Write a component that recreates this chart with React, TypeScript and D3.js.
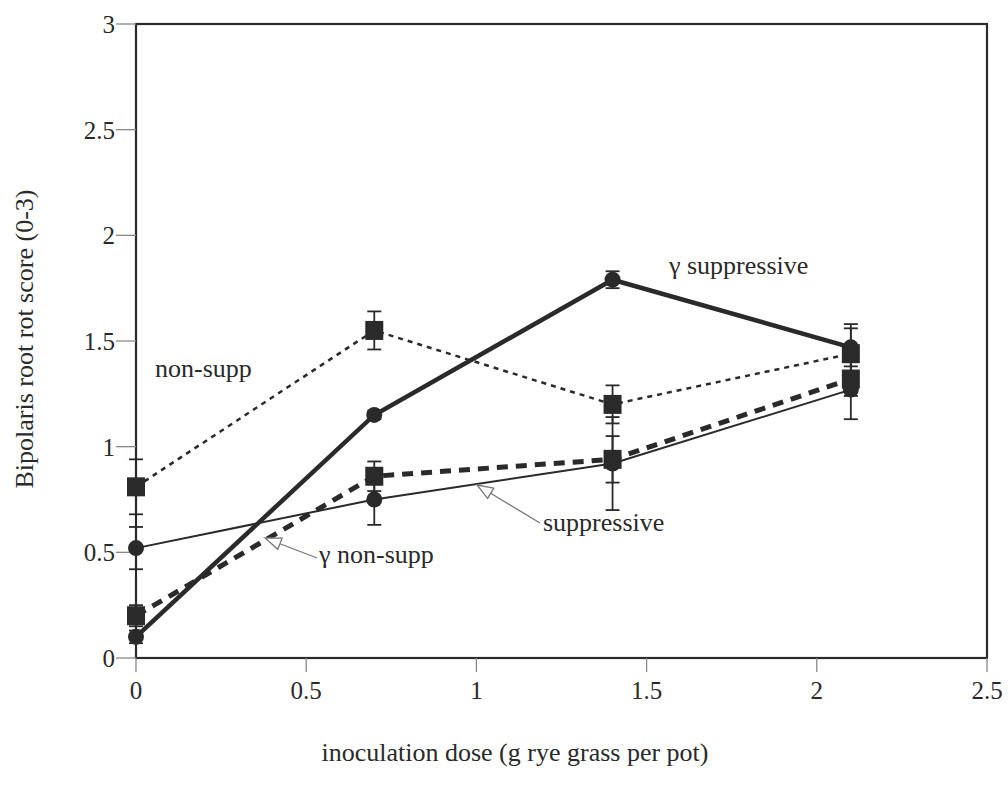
import React from "react";
import * as d3 from "d3";

const doses = [0, 0.7, 1.4, 2.1];
const nonSupp = [0.81, 1.55, 1.2, 1.44];
const nonSuppErr = [0.13, 0.09, 0.09, 0.14];
const gammaSupp = [0.1, 1.15, 1.79, 1.47];
const gammaSuppErr = [0.03, 0.02, 0.04, 0.09];
const supp = [0.52, 0.75, 0.92, 1.27];
const suppErr = [0.1, 0.12, 0.22, 0.14];
const gammaNonSupp = [0.2, 0.86, 0.94, 1.32];
const gammaNonSuppErr = [0.05, 0.07, 0.11, 0.08];

const xTicks = [0, 0.5, 1, 1.5, 2, 2.5];
const xTickLabels = ["0", "0.5", "1", "1.5", "2", "2.5"];
const yTicks = [0, 0.5, 1, 1.5, 2, 2.5, 3];
const yTickLabels = ["0", "0.5", "1", "1.5", "2", "2.5", "3"];

const xLabel = "inoculation dose (g rye grass per pot)";
const yLabel = "Bipolaris root rot score (0-3)";

const INK = "#2a2a2a";
const FONT = "'Liberation Serif', 'Times New Roman', serif";

type Series = {
  name: string;
  values: number[];
  err: number[];
  marker: "square" | "circle";
  width: number;
  dash: string | null;
};

const series: Series[] = [
  { name: "non-supp", values: nonSupp, err: nonSuppErr, marker: "square", width: 2.5, dash: "5,5" },
  { name: "suppressive", values: supp, err: suppErr, marker: "circle", width: 2, dash: null },
  { name: "γ non-supp", values: gammaNonSupp, err: gammaNonSuppErr, marker: "square", width: 5, dash: "11,8" },
  { name: "γ suppressive", values: gammaSupp, err: gammaSuppErr, marker: "circle", width: 4.5, dash: null },
];

export default function App() {
  const W = 1008;
  const H = 786;
  const x = d3.scaleLinear().domain([0, 2.5]).range([136, 987]);
  const y = d3.scaleLinear().domain([0, 3]).range([658, 24]);
  const line = d3
    .line<number>()
    .x((_, i) => x(doses[i]))
    .y((v) => y(v));

  const arrowHead = (tx: number, ty: number, fx: number, fy: number) => {
    const ang = Math.atan2(ty - fy, tx - fx);
    const len = 16;
    const half = 6;
    const bx = tx - len * Math.cos(ang);
    const by = ty - len * Math.sin(ang);
    const px = -Math.sin(ang) * half;
    const py = Math.cos(ang) * half;
    return `M${tx},${ty}L${bx + px},${by + py}L${bx - px},${by - py}Z`;
  };

  const arrows = [
    { from: [540, 523], to: [477, 485] },
    { from: [317, 558], to: [265, 538] },
  ];

  return (
    <div style={{ position: "absolute", left: 0, top: 0 }}>
      <svg width={W} height={H} style={{ display: "block", background: "#fff" }}>
        {/* frame */}
        <rect x={x(0)} y={y(3)} width={x(2.5) - x(0)} height={y(0) - y(3)} fill="none" stroke={INK} strokeWidth={2.2} />
        {/* y ticks */}
        {yTicks.map((t, i) => (
          <g key={"yt" + i}>
            <line x1={x(0) - 20} x2={x(0)} y1={y(t)} y2={y(t)} stroke="#888" strokeWidth={1.3} />
            <text x={x(0) - 21} y={y(t) + 9} textAnchor="end" fontFamily={FONT} fontSize={25} fill={INK}>
              {yTickLabels[i]}
            </text>
          </g>
        ))}
        {/* x ticks */}
        {xTicks.map((t, i) => (
          <g key={"xt" + i}>
            <line x1={x(t)} x2={x(t)} y1={y(0)} y2={y(0) + 14} stroke="#888" strokeWidth={1.3} />
            <text x={x(t)} y={y(0) + 41} textAnchor="middle" fontFamily={FONT} fontSize={25} fill={INK}>
              {xTickLabels[i]}
            </text>
          </g>
        ))}
        {/* axis labels */}
        <text x={515} y={761} textAnchor="middle" fontFamily={FONT} fontSize={26} fill={INK}>
          {xLabel}
        </text>
        <text
          transform={`translate(33,339) rotate(-90)`}
          textAnchor="middle"
          fontFamily={FONT}
          fontSize={26}
          fill={INK}
        >
          {yLabel}
        </text>

        {/* lines */}
        {series.map((s) => (
          <path
            key={"l" + s.name}
            d={line(s.values) || ""}
            fill="none"
            stroke={INK}
            strokeWidth={s.width}
            strokeDasharray={s.dash || undefined}
          />
        ))}
        {/* error bars */}
        {series.map((s) =>
          s.values.map((v, i) => {
            const cx = x(doses[i]);
            const y1 = y(v + s.err[i]);
            const y2 = y(v - s.err[i]);
            return (
              <g key={"e" + s.name + i} stroke={INK} strokeWidth={1.8}>
                <line x1={cx} x2={cx} y1={y1} y2={y2} />
                <line x1={cx - 7} x2={cx + 7} y1={y1} y2={y1} />
                <line x1={cx - 7} x2={cx + 7} y1={y2} y2={y2} />
              </g>
            );
          })
        )}
        {/* markers */}
        {series.map((s) =>
          s.values.map((v, i) => {
            const cx = x(doses[i]);
            const cy = y(v);
            return s.marker === "square" ? (
              <rect key={"m" + s.name + i} x={cx - 9} y={cy - 9.5} width={18} height={19} fill={INK} />
            ) : (
              <circle key={"m" + s.name + i} cx={cx} cy={cy} r={8} fill={INK} />
            );
          })
        )}

        {/* annotations */}
        <text x={669} y={274} fontFamily={FONT} fontSize={26} fill={INK}>γ suppressive</text>
        <text x={155} y={377} fontFamily={FONT} fontSize={26} fill={INK}>non-supp</text>
        <text x={543} y={531} fontFamily={FONT} fontSize={26} fill={INK}>suppressive</text>
        <text x={319} y={563} fontFamily={FONT} fontSize={26} fill={INK}>γ non-supp</text>

        {arrows.map((a, i) => {
          const [fx, fy] = a.from;
          const [tx, ty] = a.to;
          const ang = Math.atan2(ty - fy, tx - fx);
          const bx = tx - 16 * Math.cos(ang);
          const by = ty - 16 * Math.sin(ang);
          return (
            <g key={"a" + i}>
              <line x1={fx} y1={fy} x2={bx} y2={by} stroke="#777" strokeWidth={1.3} />
              <path d={arrowHead(tx, ty, fx, fy)} fill="#fff" stroke="#777" strokeWidth={1.3} />
            </g>
          );
        })}
      </svg>
    </div>
  );
}
